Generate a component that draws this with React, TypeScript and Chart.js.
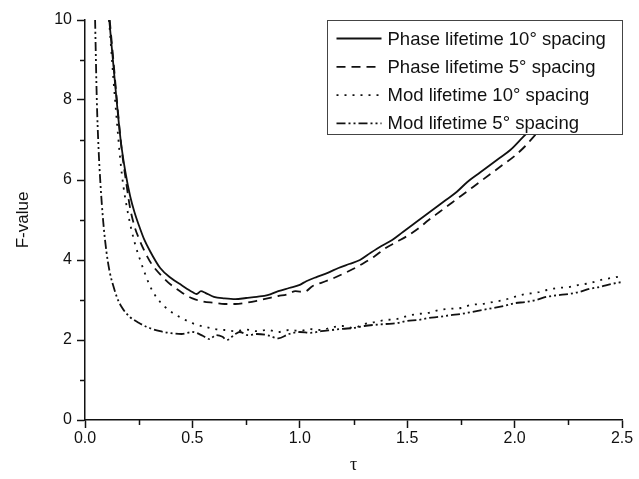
import React, { useEffect, useRef } from 'react';
import { Chart, registerables } from 'chart.js';

Chart.register(...registerables);

// ---- Data ----
const seriesLabels = [
  'Phase lifetime 10° spacing',
  'Phase lifetime 5° spacing',
  'Mod lifetime 10° spacing',
  'Mod lifetime 5° spacing',
];

const phase10Tau = [0.113, 0.13, 0.147, 0.166, 0.188, 0.21, 0.23, 0.25, 0.275, 0.3, 0.35, 0.4, 0.45, 0.5, 0.52, 0.54, 0.56, 0.6, 0.65, 0.7, 0.75, 0.8, 0.85, 0.9, 0.95, 1.0, 1.03, 1.08, 1.13, 1.18, 1.23, 1.28, 1.33, 1.38, 1.43, 1.48, 1.53, 1.58, 1.63, 1.68, 1.73, 1.78, 1.83, 1.88, 1.93, 1.98, 2.04, 2.1, 2.2, 2.3, 2.4, 2.5];
const phase10F = [10, 9.0, 8.0, 7.0, 6.2, 5.6, 5.2, 4.88, 4.52, 4.25, 3.8, 3.55, 3.37, 3.2, 3.15, 3.22, 3.18, 3.08, 3.04, 3.02, 3.05, 3.08, 3.12, 3.22, 3.3, 3.38, 3.47, 3.58, 3.68, 3.8, 3.9, 4.0, 4.18, 4.35, 4.5, 4.7, 4.9, 5.1, 5.3, 5.5, 5.7, 5.95, 6.15, 6.35, 6.55, 6.75, 7.08, 7.4, 7.9, 8.5, 9.1, 9.75];

const phase5Tau = [0.115, 0.132, 0.15, 0.17, 0.19, 0.21, 0.23, 0.25, 0.279, 0.31, 0.357, 0.4, 0.434, 0.47, 0.5, 0.55, 0.6, 0.65, 0.7, 0.75, 0.8, 0.85, 0.9, 0.94, 0.98, 1.02, 1.06, 1.1, 1.15, 1.2, 1.25, 1.3, 1.35, 1.4, 1.45, 1.5, 1.55, 1.6, 1.65, 1.7, 1.75, 1.8, 1.85, 1.9, 1.95, 2.0, 2.05, 2.1, 2.2, 2.3, 2.4, 2.5];
const phase5F = [10, 9.0, 7.9, 6.8, 6.0, 5.3, 4.85, 4.55, 4.2, 3.9, 3.6, 3.38, 3.25, 3.12, 3.04, 2.96, 2.93, 2.9, 2.9, 2.93, 2.98, 3.04, 3.1, 3.14, 3.22, 3.2, 3.35, 3.43, 3.53, 3.65, 3.78, 3.93, 4.1, 4.3, 4.45, 4.6, 4.78, 5.0, 5.2, 5.4, 5.6, 5.8, 6.0, 6.2, 6.4, 6.6, 6.85, 7.15, 7.7, 8.3, 8.95, 9.6];

const mod10Tau = [0.112, 0.14, 0.171, 0.2, 0.233, 0.26, 0.28, 0.3, 0.32, 0.35, 0.372, 0.41, 0.45, 0.5, 0.55, 0.6, 0.65, 0.7, 0.75, 0.8, 0.85, 0.9, 0.95, 1.0, 1.05, 1.1, 1.15, 1.2, 1.25, 1.3, 1.35, 1.4, 1.45, 1.5, 1.55, 1.6, 1.65, 1.7, 1.75, 1.8, 1.85, 1.9, 1.95, 2.0, 2.05, 2.1, 2.15, 2.2, 2.25, 2.3, 2.35, 2.4, 2.45, 2.5];
const mod10F = [10, 8.0, 6.17, 5.17, 4.4, 3.95, 3.65, 3.38, 3.17, 2.95, 2.83, 2.67, 2.55, 2.42, 2.34, 2.28, 2.25, 2.22, 2.26, 2.22, 2.25, 2.2, 2.25, 2.23, 2.27, 2.25, 2.32, 2.35, 2.3, 2.4, 2.45, 2.5, 2.52, 2.6, 2.65, 2.68, 2.75, 2.78, 2.8, 2.88, 2.9, 2.95, 3.0, 3.08, 3.15, 3.18, 3.25, 3.3, 3.32, 3.38, 3.42, 3.5, 3.55, 3.6];

const mod5Tau = [0.047, 0.055, 0.063, 0.072, 0.085, 0.1, 0.115, 0.132, 0.15, 0.17, 0.19, 0.21, 0.25, 0.3, 0.35, 0.4, 0.45, 0.5, 0.55, 0.58, 0.61, 0.64, 0.66, 0.7, 0.72, 0.76, 0.8, 0.85, 0.9, 0.95, 1.0, 1.05, 1.1, 1.15, 1.2, 1.25, 1.3, 1.35, 1.4, 1.45, 1.5, 1.55, 1.6, 1.65, 1.7, 1.75, 1.8, 1.85, 1.9, 1.95, 2.0, 2.05, 2.1, 2.15, 2.2, 2.25, 2.3, 2.35, 2.4, 2.45, 2.5];
const mod5F = [10, 8.0, 6.8, 5.9, 4.95, 4.2, 3.7, 3.35, 3.05, 2.83, 2.68, 2.57, 2.43, 2.3, 2.22, 2.17, 2.15, 2.2, 2.1, 2.02, 2.12, 2.08, 2.0, 2.15, 2.2, 2.12, 2.15, 2.12, 2.04, 2.15, 2.2, 2.18, 2.22, 2.25, 2.28, 2.3, 2.35, 2.38, 2.4, 2.42, 2.48, 2.5, 2.55, 2.58, 2.62, 2.65, 2.7, 2.75, 2.8, 2.85, 2.92, 2.95, 3.0, 3.08, 3.12, 3.15, 3.2, 3.28, 3.33, 3.4, 3.45];

const xMajorTicks = [0, 0.5, 1.0, 1.5, 2.0, 2.5];
const xMinorTicks = [0.25, 0.75, 1.25, 1.75, 2.25];
const yMajorTicks = [0, 2, 4, 6, 8, 10];
const yMinorTicks = [1, 3, 5, 7, 9];

const seriesDash: number[][] = [[], [9, 6], [2, 6], [9, 3, 2, 3, 2, 3]];

const FONT = "'Liberation Sans', Arial, Helvetica, sans-serif";
const INK = '#111';

const toPoints = (xs: number[], ys: number[]) => xs.map((x, i) => ({ x, y: ys[i] }));

const minorTickPlugin = {
  id: 'minorTicks',
  afterDraw(chart: any) {
    const { ctx, chartArea, scales } = chart;
    ctx.save();
    ctx.strokeStyle = INK;
    ctx.lineWidth = 1.5;
    ctx.beginPath();
    xMinorTicks.forEach((v) => {
      const px = Math.round(scales.x.getPixelForValue(v)) + 0.5;
      ctx.moveTo(px, chartArea.bottom);
      ctx.lineTo(px, chartArea.bottom + 5);
    });
    yMinorTicks.forEach((v) => {
      const py = Math.round(scales.y.getPixelForValue(v)) + 0.5;
      ctx.moveTo(chartArea.left - 5, py);
      ctx.lineTo(chartArea.left, py);
    });
    ctx.stroke();
    ctx.restore();
  },
};

const boxLegendPlugin = {
  id: 'boxLegend',
  afterDatasetsDraw(chart: any) {
    const { ctx, chartArea } = chart;
    const bw = 295;
    const bh = 114;
    const bx = chartArea.right - bw + 0.5;
    const by = chartArea.top + 0.5;
    ctx.save();
    ctx.fillStyle = '#fff';
    ctx.fillRect(bx, by, bw, bh);
    ctx.strokeStyle = '#444';
    ctx.lineWidth = 1;
    ctx.strokeRect(bx, by, bw, bh);
    ctx.font = `18.5px ${FONT}`;
    ctx.textBaseline = 'middle';
    ctx.textAlign = 'left';
    chart.data.datasets.forEach((ds: any, i: number) => {
      const y = by + 18 + i * 28.3;
      ctx.beginPath();
      ctx.setLineDash(ds.borderDash || []);
      ctx.lineWidth = 1.8;
      ctx.strokeStyle = INK;
      ctx.moveTo(bx + 9, y);
      ctx.lineTo(bx + 54, y);
      ctx.stroke();
      ctx.setLineDash([]);
      ctx.fillStyle = INK;
      ctx.fillText(ds.label, bx + 60, y + 1);
    });
    ctx.restore();
  },
};

export default function App() {
  const canvasRef = useRef<HTMLCanvasElement | null>(null);

  useEffect(() => {
    if (!canvasRef.current) return;
    const tauSets = [phase10Tau, phase5Tau, mod10Tau, mod5Tau];
    const fSets = [phase10F, phase5F, mod10F, mod5F];
    const chart = new Chart(canvasRef.current, {
      type: 'line',
      data: {
        datasets: seriesLabels.map((label, i) => ({
          label,
          data: toPoints(tauSets[i], fSets[i]),
          borderColor: INK,
          borderWidth: 1.8,
          borderDash: seriesDash[i],
          pointRadius: 0,
          cubicInterpolationMode: 'monotone',
          fill: false,
        })),
      },
      options: {
        responsive: false,
        animation: false,
        devicePixelRatio: 1,
        layout: { padding: { left: 0, top: 20, right: 17, bottom: 0 } },
        plugins: {
          legend: { display: false },
          tooltip: { enabled: false },
        },
        scales: {
          x: {
            type: 'linear',
            min: 0,
            max: 2.5,
            afterFit: (s: any) => {
              s.height = 59;
            },
            afterBuildTicks: (s: any) => {
              s.ticks = xMajorTicks.map((v) => ({ value: v }));
            },
            ticks: {
              color: INK,
              font: { family: FONT, size: 16 },
              padding: 1,
              maxRotation: 0,
              callback: (v: any) => Number(v).toFixed(1),
            },
            grid: {
              drawOnChartArea: false,
              drawTicks: true,
              tickLength: 8,
              tickColor: INK,
              tickWidth: 1.5,
            },
            border: { display: true, color: INK, width: 1.5 },
            title: {
              display: true,
              text: 'τ',
              color: INK,
              font: { family: "'Liberation Serif', 'DejaVu Serif', serif", size: 18 },
              padding: { top: 0, bottom: 3 },
            },
          },
          y: {
            type: 'linear',
            min: 0,
            max: 10,
            afterFit: (s: any) => {
              s.width = 85;
            },
            afterBuildTicks: (s: any) => {
              s.ticks = yMajorTicks.map((v) => ({ value: v }));
            },
            ticks: {
              color: INK,
              font: { family: FONT, size: 16 },
              padding: 5,
              callback: (v: any) => String(v),
            },
            grid: {
              drawOnChartArea: false,
              drawTicks: true,
              tickLength: 8,
              tickColor: INK,
              tickWidth: 1.5,
            },
            border: { display: true, color: INK, width: 1.5 },
            title: {
              display: true,
              text: 'F-value',
              color: INK,
              font: { family: FONT, size: 17 },
              padding: { top: 13, bottom: 0 },
            },
          },
        },
      },
      plugins: [minorTickPlugin, boxLegendPlugin],
    });
    return () => chart.destroy();
  }, []);

  return (
    <div style={{ position: 'fixed', left: 0, top: 0, width: 639, height: 479, background: '#fff' }}>
      <canvas ref={canvasRef} width={639} height={479} style={{ display: 'block', width: 639, height: 479 }} />
    </div>
  );
}
